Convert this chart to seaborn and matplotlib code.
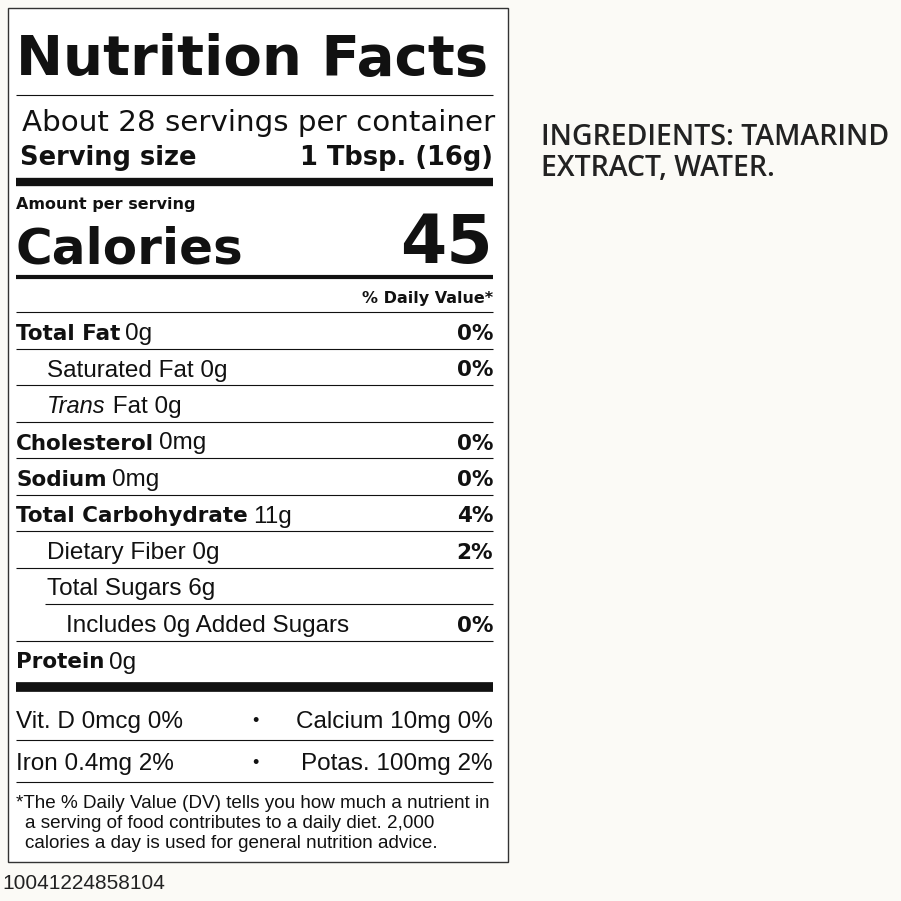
import matplotlib
matplotlib.use("Agg")
import matplotlib.pyplot as plt
import seaborn as sns

sns.set_theme(style="white")
plt.rcParams['font.family'] = ['Liberation Sans', 'DejaVu Sans']

title = "Nutrition Facts"
servings = "About 28 servings per container"
serving_size = ("Serving size", "1 Tbsp. (16g)")
calories = ("Calories", "45")
rows_label = ["Total Fat", "Saturated Fat", "Fat", "Cholesterol", "Sodium",
              "Total Carbohydrate", "Dietary Fiber", "Total Sugars", "Includes 0g Added Sugars", "Protein"]
rows_amount = ["0g", "0g", "0g", "0mg", "0mg", "11g", "0g", "6g", "", "0g"]
rows_dv = ["0%", "0%", "", "0%", "0%", "4%", "2%", "", "0%", ""]
rows_bold = [True, False, False, True, True, True, False, False, False, True]
rows_indent = [0, 1, 1, 0, 0, 0, 1, 1, 2, 0]
vit_left = ["Vit. D 0mcg 0%", "Iron 0.4mg 2%"]
vit_right = ["Calcium 10mg 0%", "Potas. 100mg 2%"]
footnote = ["*The % Daily Value (DV) tells you how much a nutrient in",
            "a serving of food contributes to a daily diet. 2,000",
            "calories a day is used for general nutrition advice."]
ingredients = ["INGREDIENTS: TAMARIND", "EXTRACT, WATER."]
code = "10041224858104"

W = 901
fig = plt.figure(figsize=(9.01, 9.01), dpi=100)
fig.patch.set_facecolor("#fbfaf6")
ax = fig.add_axes([0, 0, 1, 1])
ax.set_xlim(0, W); ax.set_ylim(W, 0); ax.axis("off")
ax.add_patch(plt.Rectangle((8, 8), 500, 854, facecolor="white", edgecolor="#333", lw=1))
renderer = fig.canvas.get_renderer()
L, R = 16, 493
K = "#111"

def hline(y, lw=1, x0=L):
    ax.plot([x0, R], [y, y], color=K, lw=lw, solid_capstyle="butt")

def width(t):
    return t.get_window_extent(renderer).width

ax.text(L, 75, title, fontsize=40.5, fontweight="black", family="DejaVu Sans", color=K, va="baseline")
hline(95, 0.8)
ax.text(22, 131, servings, fontsize=21.2, color=K, va="baseline", family="DejaVu Sans")
ax.text(20, 165, serving_size[0], fontsize=18.5, fontweight="bold", family="DejaVu Sans", color=K, va="baseline")
ax.text(R, 165, serving_size[1], fontsize=18.5, fontweight="bold", family="DejaVu Sans", color=K, va="baseline", ha="right")
hline(182, 6)
ax.text(L, 209, "Amount per serving", fontsize=11.5, fontweight="bold", family="DejaVu Sans", color=K, va="baseline")
ax.text(L, 263, calories[0], fontsize=36, fontweight="bold", family="DejaVu Sans", color=K, va="baseline")
ax.text(R, 263, calories[1], fontsize=48, fontweight="bold", family="DejaVu Sans", color=K, va="baseline", ha="right")
hline(277, 3)
ax.text(R, 303, "% Daily Value*", fontsize=11.5, fontweight="bold", family="DejaVu Sans", color=K, va="baseline", ha="right")
hline(312, 0.8)

y = 340
for i, lab in enumerate(rows_label):
    x = L + [0, 31, 34][rows_indent[i]]
    if rows_indent[i] == 2:
        x = 66
    if lab == "Fat":
        t = ax.text(x, y, "Trans", fontsize=17, style="italic", color=K, va="baseline")
        x += width(t)
        lab = " Fat"
    if rows_bold[i]:
        t = ax.text(x, y, lab, fontsize=15.5, fontweight="bold", family="DejaVu Sans", color=K, va="baseline")
        x += width(t) + 5
        if rows_amount[i]:
            ax.text(x, y, rows_amount[i], fontsize=17.5, color=K, va="baseline")
    else:
        txt = lab + (" " + rows_amount[i] if rows_amount[i] else "")
        ax.text(x, y, txt, fontsize=17.5, color=K, va="baseline")
    if rows_dv[i]:
        ax.text(R, y, rows_dv[i], fontsize=15.5, fontweight="bold", family="DejaVu Sans", color=K, va="baseline", ha="right")
    if i < len(rows_label) - 1:
        lx = 45 if i == 7 else L
        hline(y + 8.5, 0.8, lx)
    y += 36.5

hline(687, 7)
for j, yy in enumerate([728, 770]):
    ax.text(L, yy, vit_left[j], fontsize=17.5, color=K, va="baseline")
    ax.text(255, yy - 6, "•", fontsize=13, color=K, va="center", ha="center")
    ax.text(R, yy, vit_right[j], fontsize=17.5, color=K, va="baseline", ha="right")
hline(740, 0.8)
hline(782, 0.8)
for j, line in enumerate(footnote):
    ax.text(L if j == 0 else 25, 808 + j * 20, line, fontsize=13.6, color=K, va="baseline")

for j, line in enumerate(ingredients):
    ax.text(541, 145 + j * 31, line, fontsize=20.5, fontweight="semibold", family="Open Sans", color="#222", va="baseline")
ax.text(2, 889, code, fontsize=15, color="#222", va="baseline")

fig.savefig("out.png", dpi=100, facecolor=fig.get_facecolor())
